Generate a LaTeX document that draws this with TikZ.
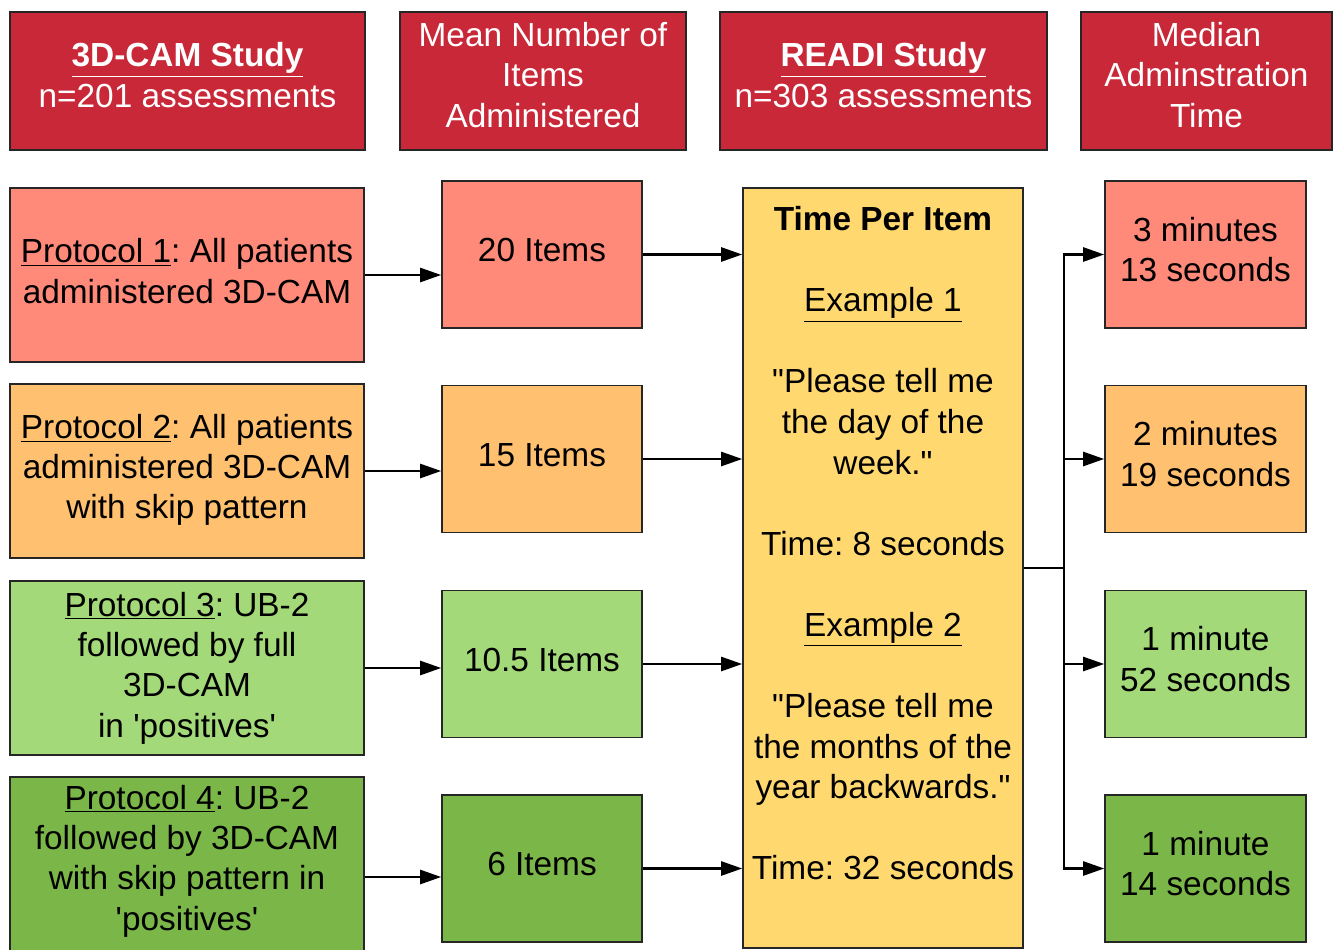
\documentclass[tikz,border=0pt]{standalone}
\usepackage{fontspec}
\setmainfont{Liberation Sans}
\usetikzlibrary{arrows.meta,calc}

\definecolor{headred}{RGB}{200,40,56}
\definecolor{proone}{RGB}{255,138,122}
\definecolor{protwo}{RGB}{255,192,112}
\definecolor{prothree}{RGB}{163,217,120}
\definecolor{profour}{RGB}{122,182,72}
\definecolor{timeyellow}{RGB}{255,217,112}

\tikzset{
	boxfont/.style={align=center, inner sep=0pt, font=\fontsize{19}{23}\selectfont},
	box/.style={draw=black!85, line width=0.9pt, inner sep=0pt},
	head/.style={box, fill=headred},
	headtext/.style={boxfont, text=white},
	flow/.style={-{Triangle[length=12pt,width=8pt]}, line width=1.4pt},
}

\frenchspacing

\begin{document}
\begin{tikzpicture}[x=0.02cm, y=-0.02cm]

% parameters %{{{2

	\def\u{0.02cm}
	\def\gap{40}

	\useasboundingbox (0,0) rectangle (1340,950);

% header row %{{{2

	\node[head, minimum width=355*\u, minimum height=138*\u,
		label={[headtext, yshift=3.4pt]center:{\textbf{\underline{3D-CAM Study}}\\n=201 assessments}}]
		(H1) at (187.5,81) {};
	\node[head, minimum width=286*\u, minimum height=138*\u,
		label={[headtext, yshift=3.4pt]center:{Mean Number of\\Items\\Administered}}]
		(H2) at (543,81) {};
	\node[head, minimum width=327*\u, minimum height=138*\u,
		label={[headtext, yshift=3.4pt]center:{\textbf{\underline{READI Study}}\\n=303 assessments}}]
		(H3) at (883.5,81) {};
	\node[head, minimum width=251*\u, minimum height=138*\u,
		label={[headtext, yshift=3.4pt]center:{Median\\Adminstration\\Time}}]
		(H4) at (1206.5,81) {};

% protocols %{{{2

	\node[box, fill=proone, minimum width=354*\u, minimum height=174*\u,
		label={[boxfont, yshift=2.3pt]center:{\underline{Protocol 1}: All patients\\administered 3D-CAM}}]
		(P1) at (187,275) {};
	\node[box, fill=protwo, minimum width=354*\u, minimum height=174*\u,
		label={[boxfont, yshift=0.6pt]center:{\underline{Protocol 2}: All patients\\administered 3D-CAM\\with skip pattern}}]
		(P2) at (187,471) {};
	\node[box, fill=prothree, minimum width=354*\u, minimum height=174*\u,
		label={[boxfont]center:{\underline{Protocol 3}: UB-2\\followed by full\\3D-CAM\\in \textquotesingle positives\textquotesingle}}]
		(P3) at (187,668) {};
	\node[box, fill=profour, minimum width=354*\u, minimum height=200*\u,
		label={[boxfont, yshift=9.1pt]center:{\underline{Protocol 4}: UB-2\\followed by 3D-CAM\\with skip pattern in\\\textquotesingle positives\textquotesingle}}]
		(P4) at (187,877) {};

% items and times %{{{2

	\foreach \i/\c/\y/\t/\m in {%
		1/proone/254.5/20 Items/{3 minutes\\13 seconds},
		2/protwo/459/15 Items/{2 minutes\\19 seconds},
		3/prothree/664/10.5 Items/{1 minute\\52 seconds},
		4/profour/868.5/6 Items/{1 minute\\14 seconds}} {
		\node[box, fill=\c, minimum width=200*\u, minimum height=147*\u,
			label={[boxfont, yshift=2.3pt]center:\t}] (I\i) at (542,\y) {};
		\node[box, fill=\c, minimum width=201*\u, minimum height=147*\u,
			label={[boxfont, yshift=2.8pt]center:{\m}}] (M\i) at (1205.5,\y) {};
	}

% time per item %{{{2

	\node[box, fill=timeyellow, minimum width=280*\u, minimum height=760*\u] (T) at (883,568) {};

	\node[boxfont, font=\fontsize{19}{23.1}\selectfont, anchor=north] (Ttext) at (883,206) {%
		\textbf{Time Per Item}\\[23.1pt]
		\underline{Example 1}\\[23.1pt]
		\textquotedbl Please tell me\\the day of the\\week.\textquotedbl\\[23.1pt]
		Time: 8 seconds\\[23.1pt]
		\underline{Example 2}\\[23.1pt]
		\textquotedbl Please tell me\\the months of the\\year backwards.\textquotedbl\\[23.1pt]
		Time: 32 seconds};

% connectors %{{{2

	\foreach \i in {1,...,4} {
		\draw[flow] (P\i.east) -- (P\i.east -| I\i.west);
		\draw[flow] (I\i.east) -- (I\i.east -| T.west);
	}

	\coordinate (split) at ($(T.east)+(\gap,0)$);
	\draw[line width=1.4pt] (T.east) -- (split);

	\foreach \i in {1,...,4} { \draw[flow] (split) |- (M\i.west); }

% closing %{{{2

\end{tikzpicture}
\end{document}
